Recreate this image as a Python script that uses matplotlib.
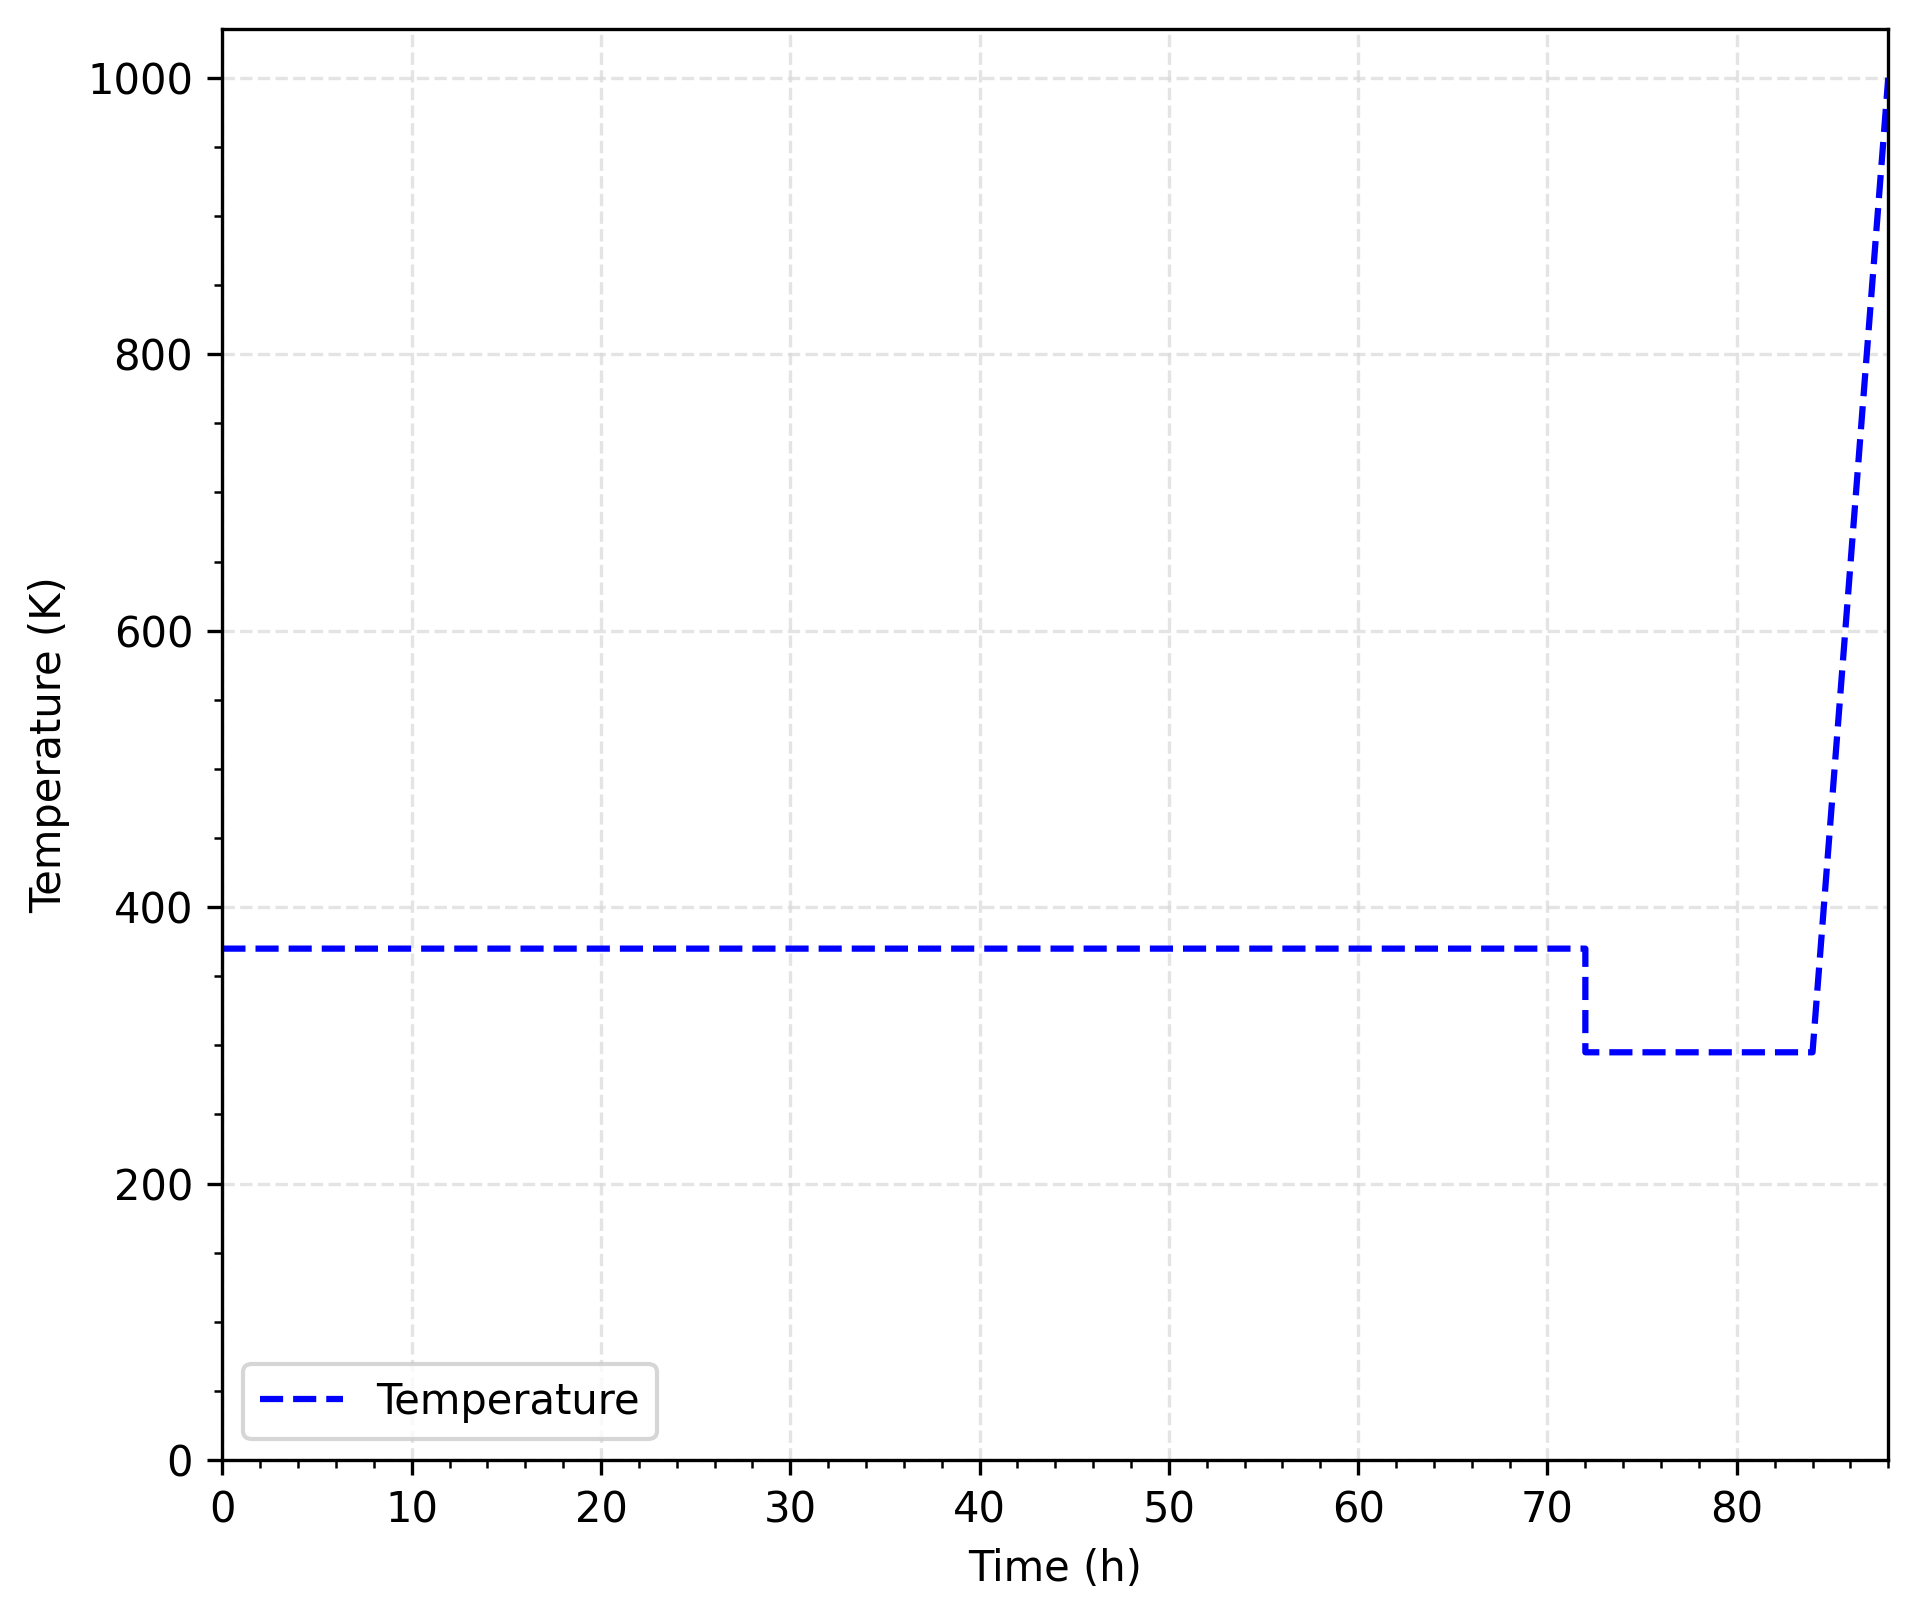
import matplotlib
matplotlib.use("Agg")
import matplotlib.pyplot as plt

time_h = [0, 72, 72, 84, 88]
temperature_K = [370, 370, 295, 295, 1000]

fig, ax = plt.subplots(figsize=(1917/300, 1616/300), dpi=300)
fig.subplots_adjust(left=0.116, right=0.985, top=0.982, bottom=0.0965)

ax.plot(time_h, temperature_K, color='blue', linestyle='--', linewidth=1.5, label='Temperature')
ax.set_xlim(0, 88)
ax.set_ylim(bottom=0)
ax.set_xlabel('Time (h)')
ax.set_ylabel('Temperature (K)')
ax.minorticks_on()
ax.grid(True, which='major', linestyle='--', color='#d9d9d9', alpha=0.7, linewidth=0.8)
ax.legend(loc='lower left')

fig.savefig('out.png', dpi=300)
